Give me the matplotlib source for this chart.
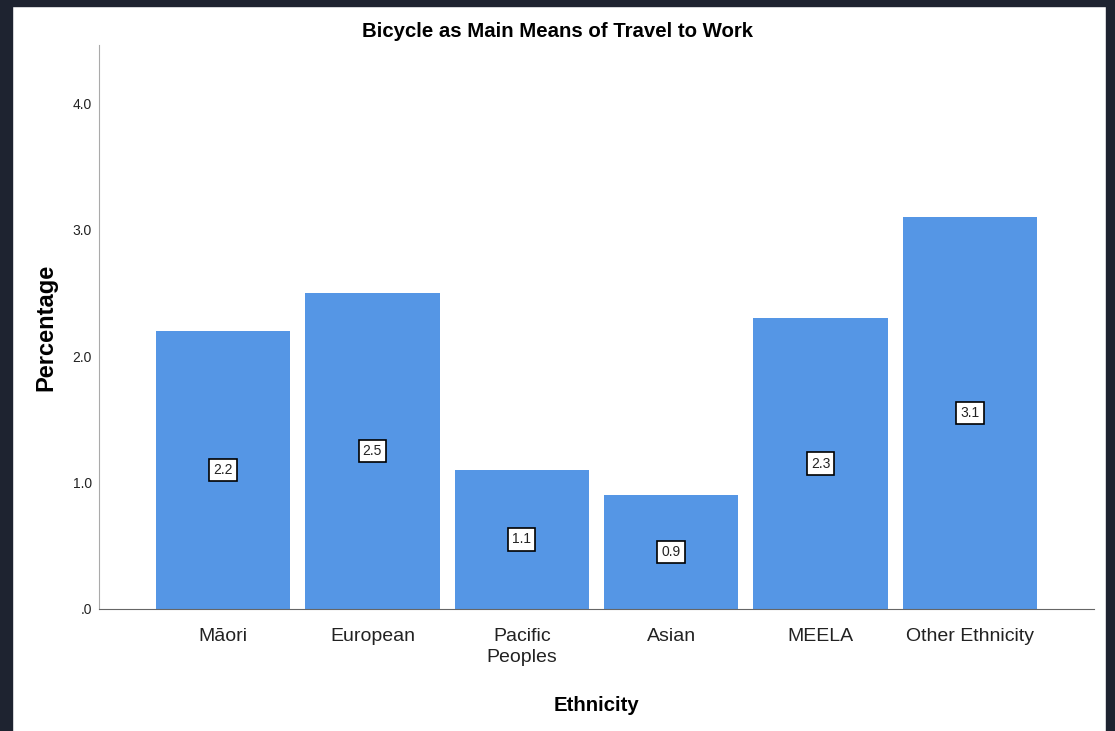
import matplotlib.pyplot as plt
from matplotlib.patches import Rectangle

# Dados
grupos = ['Māori', 'European', 'Pacific\nPeoples', 'Asian', 'MEELA', 'Other Ethnicity']
percentuais = [2.2, 2.5, 1.1, 0.9, 2.3, 3.1]
ticks_y = [0.0, 1.0, 2.0, 3.0, 4.0]
rotulos_y = ['.0', '1.0', '2.0', '3.0', '4.0']

plt.rcParams['font.family'] = ['Liberation Sans', 'DejaVu Sans']

fig = plt.figure(figsize=(11.15, 7.31), dpi=100)
fig.patch.set_facecolor('white')

# moldura escura em volta da imagem
fig.patches.append(Rectangle((0, 0), 12 / 1115, 1, transform=fig.transFigure,
                             color='#1e2330', zorder=0))
fig.patches.append(Rectangle((1106 / 1115, 0), 9 / 1115, 1, transform=fig.transFigure,
                             color='#1e2330', zorder=0))
fig.patches.append(Rectangle((0, 1 - 6 / 731), 1, 6 / 731, transform=fig.transFigure,
                             color='#1e2330', zorder=0))

ax = fig.add_axes([99 / 1115, 1 - 609 / 731, (1094 - 99) / 1115, (609 - 45) / 731])

x = range(len(grupos))
ax.bar(x, percentuais, width=0.9, color='#5596e5', zorder=2)

# rótulos de valor no meio da barra
for xi, v in zip(x, percentuais):
    ax.text(xi, v / 2, f'{v:.1f}', ha='center', va='center', fontsize=10, color='#222222',
            bbox=dict(boxstyle='square,pad=0.3', facecolor='white', edgecolor='black', linewidth=1.2))

ax.set_xlim(-0.83, 5.83)
ax.set_ylim(0, 4.46)
ax.set_xticks(list(x))
ax.set_xticklabels(grupos, fontsize=14, color='#222222', linespacing=1.25)
ax.set_yticks(ticks_y)
ax.set_yticklabels(rotulos_y, fontsize=10, color='#222222')
ax.tick_params(axis='both', length=0)
ax.tick_params(axis='x', pad=14)
ax.tick_params(axis='y', pad=5)

for lado in ['top', 'right']:
    ax.spines[lado].set_visible(False)
ax.spines['left'].set_color('#aaaaaa')
ax.spines['bottom'].set_color('#666666')

fig.suptitle('Bicycle as Main Means of Travel to Work', fontsize=14.7, fontweight='bold',
             x=0.5, y=1 - 22 / 731, va='top')
ax.set_xlabel('Ethnicity', fontsize=14.7, fontweight='bold', va='top')
ax.xaxis.set_label_coords(0.5, -0.155)
ax.set_ylabel('Percentage', fontsize=17, fontweight='bold')
ax.yaxis.set_label_coords(-0.042, 0.5)

fig.savefig('out.png', dpi=100)
